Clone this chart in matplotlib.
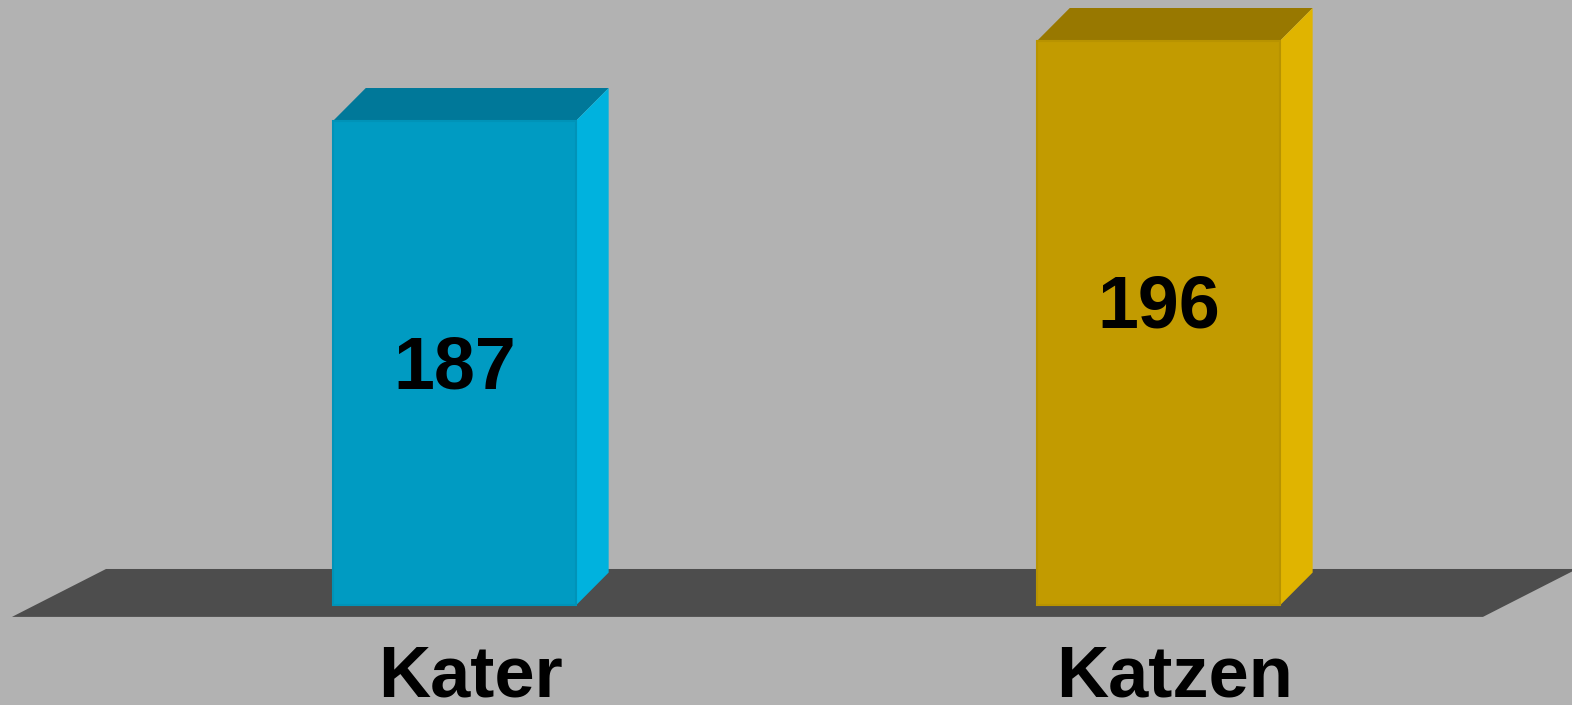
import matplotlib.pyplot as plt
from matplotlib.patches import Polygon

# ─── Data ────────────────────────────────────────────────────────────────────
categories = ['Kater', 'Katzen']
values = [187, 196]
label_heights = [159.1, 165.9]   # where the value labels sit

# ─── Style ───────────────────────────────────────────────────────────────────
BG = '#b2b2b2'
FLOOR = '#4d4d4d'
front_colors = ['#009bc2', '#c29b00']
top_colors = ['#007899', '#987800']
side_colors = ['#00b2de', '#e0b400']
edge_colors = ['#0093b8', '#b89300']

BASE = 132.5          # value axis starts here
BAR_W = 0.345
DX, DY = 0.0465, 3.7  # 3d depth offset (x units, value units)

plt.rcParams['font.family'] = ['Liberation Sans', 'DejaVu Sans']

fig = plt.figure(figsize=(15.72, 7.05), dpi=100)
fig.patch.set_facecolor(BG)
ax = fig.add_axes([0, 0, 1, 1])
ax.set_facecolor(BG)
ax.set_xlim(-0.6456, 1.5874)
ax.set_ylim(121.3, 200.6)
ax.axis('off')

# floor
floor = Polygon([(-0.6286, BASE - 1.29), (-0.4950, BASE + 4.1),
                 (1.5945, BASE + 4.1), (1.4609, BASE - 1.29)],
                closed=True, facecolor=FLOOR, edgecolor='none', zorder=1)
ax.add_patch(floor)

x = list(range(len(categories)))
bars = ax.bar(x, [v - BASE for v in values], bottom=BASE, width=BAR_W,
              color=front_colors, edgecolor=edge_colors, linewidth=1.5, zorder=3)

for i, (xi, v) in enumerate(zip(x, values)):
    l, r = xi - BAR_W / 2, xi + BAR_W / 2
    top = Polygon([(l, v), (l + DX, v + DY), (r + DX, v + DY), (r, v)],
                  closed=True, facecolor=top_colors[i], edgecolor='none', zorder=2)
    side = Polygon([(r, BASE), (r, v), (r + DX, v + DY), (r + DX, BASE + DY)],
                   closed=True, facecolor=side_colors[i], edgecolor='none', zorder=2)
    ax.add_patch(top)
    ax.add_patch(side)

    ax.text(xi, label_heights[i], str(v), ha='center', va='center',
            fontsize=53, fontweight='bold', color='black', zorder=4)
    ax.text(xi + DX / 2, BASE - 10.3, categories[i], ha='center', va='baseline',
            fontsize=52, fontweight='bold', color='black', zorder=4)

fig.savefig('out.png', dpi=100, facecolor=BG)
plt.close()
